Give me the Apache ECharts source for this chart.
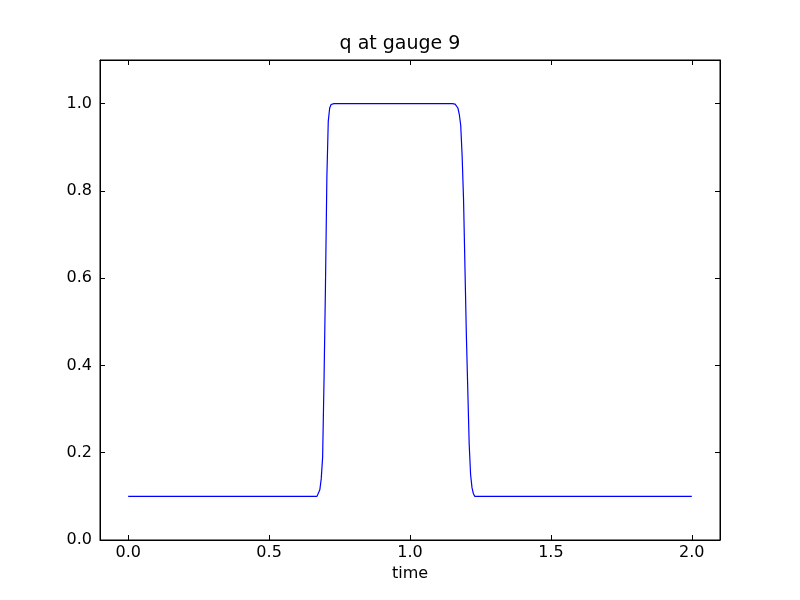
<!DOCTYPE html>
<html>
<head>
<meta charset="utf-8">
<script src="https://cdn.jsdelivr.net/npm/echarts@6/dist/echarts.min.js"></script>
<style>html,body{margin:0;padding:0;background:#fff}#c{width:800px;height:600px}</style>
</head>
<body>
<div id="c"></div>
<script>
var time = [0, 0.5, 0.66, 0.67, 0.675, 0.68, 0.685, 0.69, 0.695, 0.70, 0.705, 0.71, 0.715, 0.72, 0.73, 0.8, 1.0, 1.15, 1.16, 1.165, 1.17, 1.175, 1.18, 1.185, 1.19, 1.20, 1.21, 1.215, 1.22, 1.225, 1.23, 1.5, 2.0];
var q = [0.1, 0.1, 0.1, 0.1, 0.103, 0.115, 0.14, 0.19, 0.37, 0.58, 0.83, 0.96, 0.99, 0.998, 1.0, 1.0, 1.0, 1.0, 0.999, 0.996, 0.99, 0.975, 0.95, 0.88, 0.78, 0.47, 0.22, 0.15, 0.12, 0.106, 0.1, 0.1, 0.1];
var xTicks = [0, 0.5, 1.0, 1.5, 2.0];
var yTicks = [0, 0.2, 0.4, 0.6, 0.8, 1.0];
var titleText = 'q at gauge 9';
var xName = 'time';

var data = time.map(function (t, i) { return [t, q[i]]; });
var font = 'DejaVu Sans';
function fmt(v) { return v.toFixed(1); }
var chart = echarts.init(document.getElementById('c'), null, {renderer: 'canvas'});
var lineStyle = {color: '#000', width: 1};
chart.setOption({
  animation: false,
  title: {text: titleText, left: 'center', top: 30, textStyle: {fontFamily: font, fontSize: 19, fontWeight: 'normal', color: '#000'}},
  grid: {left: 100, right: 80, top: 60, bottom: 60, show: true, borderColor: '#000', borderWidth: 1},
  xAxis: [{
    type: 'value', min: -0.1, max: 2.1, position: 'bottom',
    name: xName, nameLocation: 'middle', nameGap: 25,
    nameTextStyle: {fontFamily: font, fontSize: 16, color: '#000'},
    axisLine: {show: true, onZero: false, lineStyle: lineStyle},
    axisTick: {show: true, inside: true, length: 5, customValues: xTicks, lineStyle: lineStyle},
    axisLabel: {show: true, customValues: xTicks, formatter: fmt, margin: 5, fontFamily: font, fontSize: 16, color: '#000'},
    splitLine: {show: false}
  }, {
    type: 'value', min: -0.1, max: 2.1, position: 'top',
    axisLine: {show: true, onZero: false, lineStyle: lineStyle},
    axisTick: {show: true, inside: true, length: 5, customValues: xTicks, lineStyle: lineStyle},
    axisLabel: {show: false}, splitLine: {show: false}
  }],
  yAxis: [{
    type: 'value', min: 0, max: 1.1, position: 'left',
    axisLine: {show: true, onZero: false, lineStyle: lineStyle},
    axisTick: {show: true, inside: true, length: 5, customValues: yTicks, lineStyle: lineStyle},
    axisLabel: {show: true, customValues: yTicks, formatter: fmt, margin: 8, fontFamily: font, fontSize: 16, color: '#000'},
    splitLine: {show: false}
  }, {
    type: 'value', min: 0, max: 1.1, position: 'right',
    axisLine: {show: true, onZero: false, lineStyle: lineStyle},
    axisTick: {show: true, inside: true, length: 5, customValues: yTicks, lineStyle: lineStyle},
    axisLabel: {show: false}, splitLine: {show: false}
  }],
  series: [{
    type: 'line', data: data, xAxisIndex: 0, yAxisIndex: 0,
    showSymbol: false, symbol: 'none', smooth: false,
    lineStyle: {color: '#0000ff', width: 1.2}
  }]
});
</script>
</body>
</html>
